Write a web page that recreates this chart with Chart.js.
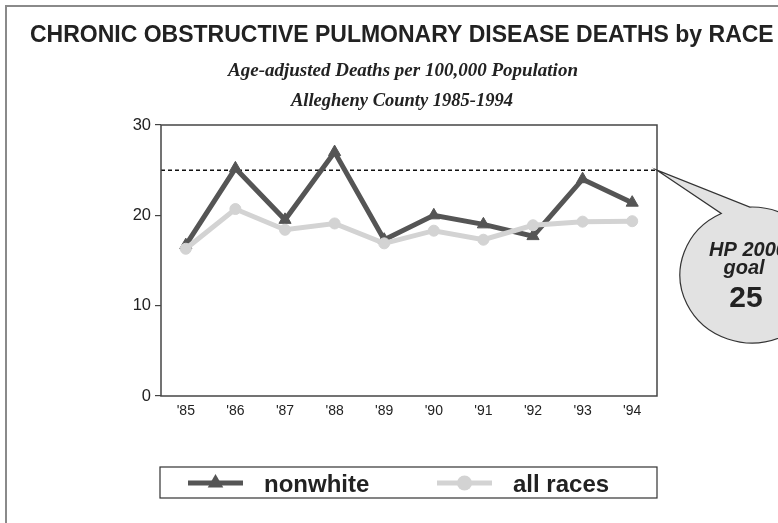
<!DOCTYPE html>
<html>
<head>
<meta charset="utf-8">
<script src="https://cdn.jsdelivr.net/npm/chart.js@4/dist/chart.umd.min.js"></script>
<style>
  html, body { margin: 0; padding: 0; background: #fff; }
  #wrap { width: 778px; height: 523px; position: relative; }
</style>
</head>
<body>
<div id="wrap"><canvas id="c" width="778" height="523"></canvas></div>
<script>
// Years shown on the x axis
const years = ["'85", "'86", "'87", "'88", "'89", "'90", "'91", "'92", "'93", "'94"];
// Age-adjusted COPD deaths per 100,000
const nonwhite = [16.7, 25.2, 19.5, 27.0, 17.3, 20.0, 19.0, 17.7, 24.0, 21.4];
const allRaces = [16.3, 20.7, 18.4, 19.1, 16.9, 18.3, 17.3, 18.9, 19.3, 19.35];
// Healthy People 2000 target
const hpGoal = 25;
const yMin = 0, yMax = 30, yStep = 10;

const titleText = 'CHRONIC OBSTRUCTIVE PULMONARY DISEASE DEATHS by RACE';
const subtitleText = 'Age-adjusted Deaths per 100,000 Population';
const subsubText = 'Allegheny County 1985-1994';

const DARK = '#555555';
const LIGHT = '#d3d3d3';
const INK = '#222222';

function drawTriangle(ctx, x, y, r, color) {
  ctx.save();
  ctx.fillStyle = color;
  ctx.beginPath();
  ctx.moveTo(x, y - r);
  ctx.lineTo(x + r * Math.sin(2 * Math.PI / 3), y - r * Math.cos(2 * Math.PI / 3));
  ctx.lineTo(x + r * Math.sin(4 * Math.PI / 3), y - r * Math.cos(4 * Math.PI / 3));
  ctx.closePath();
  ctx.fill();
  ctx.restore();
}
function drawCircle(ctx, x, y, r, color) {
  ctx.save();
  ctx.fillStyle = color;
  ctx.beginPath();
  ctx.arc(x, y, r, 0, Math.PI * 2);
  ctx.fill();
  ctx.restore();
}

// Page frame, headings and plot box
const decorPlugin = {
  id: 'decor',
  beforeDraw(chart) {
    const ctx = chart.ctx;
    ctx.save();
    ctx.fillStyle = '#ffffff';
    ctx.fillRect(0, 0, chart.width, chart.height);
    // outer frame (runs off the right and bottom edges)
    ctx.strokeStyle = '#8a8a8a';
    ctx.lineWidth = 2;
    ctx.beginPath();
    ctx.moveTo(6, chart.height + 5);
    ctx.lineTo(6, 6);
    ctx.lineTo(chart.width + 5, 6);
    ctx.stroke();
    // headings
    ctx.fillStyle = INK;
    ctx.textBaseline = 'alphabetic';
    ctx.textAlign = 'left';
    ctx.font = 'bold 23px "Liberation Sans", Arial, sans-serif';
    ctx.fillText(titleText, 30, 42);
    ctx.textAlign = 'center';
    ctx.font = 'bold italic 19px "Liberation Serif", "Times New Roman", serif';
    ctx.fillText(subtitleText, 403, 76);
    ctx.font = 'bold italic 18.5px "Liberation Serif", "Times New Roman", serif';
    ctx.fillText(subsubText, 402, 106);
    ctx.restore();
  },
  beforeDatasetsDraw(chart) {
    const ctx = chart.ctx;
    const a = chart.chartArea;
    const y = chart.scales.y.getPixelForValue(hpGoal);
    ctx.save();
    // goal reference line
    ctx.strokeStyle = '#111';
    ctx.lineWidth = 1.5;
    ctx.setLineDash([4, 3]);
    ctx.beginPath();
    ctx.moveTo(a.left, y);
    ctx.lineTo(a.right, y);
    ctx.stroke();
    ctx.restore();
  },
  afterDraw(chart) {
    const ctx = chart.ctx;
    const a = chart.chartArea;
    ctx.save();
    // plot box
    ctx.strokeStyle = '#454545';
    ctx.lineWidth = 1.5;
    ctx.strokeRect(a.left, a.top, a.right - a.left, a.bottom - a.top);

    // callout bubble for the goal
    const tipX = a.right, tipY = chart.scales.y.getPixelForValue(hpGoal);
    const cx = 752, cy = 275, rx = 72, ry = 68;
    const aStart = Math.atan2(-0.853, -0.403);
    const aEnd = -Math.PI / 2 - 0.03;
    ctx.beginPath();
    ctx.moveTo(tipX, tipY);
    ctx.lineTo(cx + rx * Math.cos(aStart), cy + ry * Math.sin(aStart));
    ctx.ellipse(cx, cy, rx, ry, 0, aStart, aEnd, true);
    ctx.closePath();
    ctx.fillStyle = '#e2e2e2';
    ctx.fill();
    ctx.strokeStyle = '#333';
    ctx.lineWidth = 1.2;
    ctx.stroke();
    ctx.fillStyle = INK;
    ctx.textAlign = 'center';
    ctx.font = 'bold italic 20px "Liberation Sans", Arial, sans-serif';
    ctx.fillText('HP 2000', 748, 256);
    ctx.fillText('goal', 744, 274);
    ctx.font = 'bold 30px "Liberation Sans", Arial, sans-serif';
    ctx.fillText(String(hpGoal), 746, 307);

    // legend box
    const lx0 = 160, ly0 = 467, lx1 = 657, ly1 = 498;
    ctx.strokeStyle = '#333';
    ctx.lineWidth = 1.2;
    ctx.strokeRect(lx0, ly0, lx1 - lx0, ly1 - ly0);
    const items = [
      { ds: chart.data.datasets[0], x0: 188, x1: 243, tx: 264, r: 9 },
      { ds: chart.data.datasets[1], x0: 437, x1: 492, tx: 513, r: 7.5 }
    ];
    const my = 483;
    items.forEach(it => {
      ctx.strokeStyle = it.ds.borderColor;
      ctx.lineWidth = 5;
      ctx.beginPath();
      ctx.moveTo(it.x0, my);
      ctx.lineTo(it.x1, my);
      ctx.stroke();
      const mx = (it.x0 + it.x1) / 2;
      if (it.ds.pointStyle === 'triangle') drawTriangle(ctx, mx, my, it.r, it.ds.pointBackgroundColor);
      else drawCircle(ctx, mx, my, it.r, it.ds.pointBackgroundColor);
      ctx.fillStyle = INK;
      ctx.textAlign = 'left';
      ctx.font = 'bold 24px "Liberation Sans", Arial, sans-serif';
      ctx.fillText(it.ds.label, it.tx, 492);
    });
    ctx.restore();
  }
};

new Chart(document.getElementById('c'), {
  type: 'line',
  data: {
    labels: years,
    datasets: [
      {
        label: 'nonwhite',
        data: nonwhite,
        borderColor: DARK,
        backgroundColor: DARK,
        borderWidth: 5,
        pointStyle: 'triangle',
        pointRadius: 7,
        pointBackgroundColor: DARK,
        pointBorderColor: DARK,
        pointBorderWidth: 1,
        tension: 0,
        order: 2
      },
      {
        label: 'all races',
        data: allRaces,
        borderColor: LIGHT,
        backgroundColor: LIGHT,
        borderWidth: 5,
        pointStyle: 'circle',
        pointRadius: 5.5,
        pointBackgroundColor: LIGHT,
        pointBorderColor: LIGHT,
        pointBorderWidth: 1,
        tension: 0,
        order: 1
      }
    ]
  },
  options: {
    responsive: false,
    animation: false,
    devicePixelRatio: 1,
    layout: { padding: { left: 0, right: 121, top: 125, bottom: 97 } },
    plugins: {
      legend: { display: false },
      title: { display: false },
      tooltip: { enabled: false }
    },
    scales: {
      x: {
        offset: true,
        grid: { display: false, drawTicks: false },
        border: { display: false },
        ticks: {
          color: INK,
          padding: 7,
          font: { family: '"Liberation Sans", Arial, sans-serif', size: 14 }
        },
        afterFit(scale) { scale.height = 30; }
      },
      y: {
        min: yMin,
        max: yMax,
        grid: { drawOnChartArea: false, drawTicks: true, tickLength: 6, color: '#454545', lineWidth: 1.2 },
        border: { display: false },
        ticks: {
          stepSize: yStep,
          color: INK,
          padding: 4,
          font: { family: '"Liberation Sans", Arial, sans-serif', size: 16.5 }
        },
        afterFit(scale) { scale.width = 161; }
      }
    }
  },
  plugins: [decorPlugin]
});
</script>
</body>
</html>
